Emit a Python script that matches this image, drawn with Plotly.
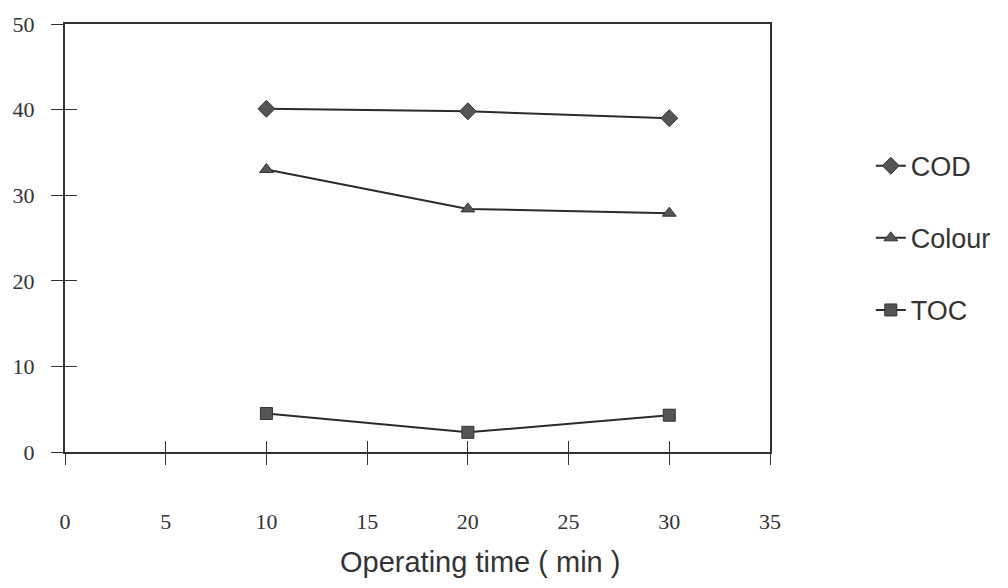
import plotly.graph_objects as go

time_min = [10, 20, 30]
cod = [40.1, 39.8, 39.0]
colour = [33.0, 28.4, 27.9]
toc = [4.5, 2.3, 4.3]

x_ticks = [0, 5, 10, 15, 20, 25, 30, 35]
y_ticks = [0, 10, 20, 30, 40, 50]

line_col = "#2b2b2b"
mark_col = "#555555"

fig = go.Figure()
series = [("COD", cod, "diamond", 13), ("Colour", colour, "triangle-up", 12), ("TOC", toc, "square", 12)]
for name, vals, sym, sz in series:
    fig.add_trace(go.Scatter(
        x=time_min, y=vals, name=name, mode="lines+markers",
        line=dict(color=line_col, width=2),
        marker=dict(symbol=sym, size=sz, color=mark_col, line=dict(color="#333333", width=1)),
        legendgroup=name,
    ))

# invisible trace on overlay axes to draw inside-tick halves
fig.add_trace(go.Scatter(x=[0], y=[0], xaxis="x2", yaxis="y2", mode="markers",
                         marker=dict(opacity=0), showlegend=False, hoverinfo="skip"))

serif = "Liberation Serif"
sans = "Liberation Sans"

fig.update_layout(
    width=1008, height=588,
    margin=dict(l=65, r=237, t=17, b=136),
    paper_bgcolor="white", plot_bgcolor="white",
    showlegend=True,
    legend=dict(x=1.143, y=0.725, xanchor="left", yanchor="top",
                font=dict(family=sans, size=27, color="#333333"),
                tracegroupgap=34, bgcolor="rgba(0,0,0,0)"),
    xaxis=dict(range=[0, 35], tickvals=x_ticks, showgrid=False, zeroline=False,
               showline=True, linecolor="#333333", linewidth=2, mirror=True,
               ticks="outside", ticklen=11, tickwidth=1, tickcolor="#333333",
               ticklabelstandoff=38,
               tickfont=dict(family=serif, size=22, color="#333333")),
    yaxis=dict(range=[0, 50], tickvals=y_ticks, showgrid=False, zeroline=False,
               showline=True, linecolor="#333333", linewidth=2, mirror=True,
               ticks="outside", ticklen=12, tickwidth=1, tickcolor="#333333",
               ticklabelstandoff=12,
               tickfont=dict(family=serif, size=22, color="#333333")),
    xaxis2=dict(range=[0, 35], tickvals=x_ticks, overlaying="x", side="bottom",
                showgrid=False, zeroline=False, showline=False, showticklabels=False,
                ticks="inside", ticklen=11, tickwidth=1, tickcolor="#333333"),
    yaxis2=dict(range=[0, 50], tickvals=y_ticks, overlaying="y", side="left",
                showgrid=False, zeroline=False, showline=False, showticklabels=False,
                ticks="inside", ticklen=12, tickwidth=1, tickcolor="#333333"),
    annotations=[dict(text="Operating time ( min )", xref="paper", yref="paper",
                      x=0.589, y=-0.258, xanchor="center", yanchor="middle",
                      showarrow=False, font=dict(family=sans, size=29, color="#333333"))],
)

fig.write_html("out.html")
